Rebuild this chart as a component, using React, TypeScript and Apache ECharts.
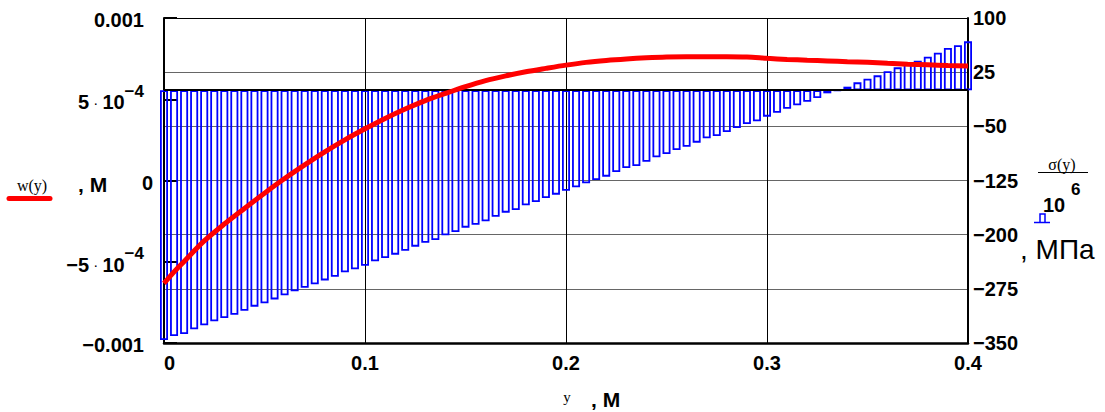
import React, { useEffect, useRef } from "react";
import * as echarts from "echarts";

// positions along y (m) for the stress bars
const barPositions = [
  0, 0.005, 0.01, 0.015, 0.02, 0.025, 0.03, 0.035, 0.04, 0.045,
  0.05, 0.055, 0.06, 0.065, 0.07, 0.075, 0.08, 0.085, 0.09, 0.095,
  0.1, 0.105, 0.11, 0.115, 0.12, 0.125, 0.13, 0.135, 0.14, 0.145,
  0.15, 0.155, 0.16, 0.165, 0.17, 0.175, 0.18, 0.185, 0.19, 0.195,
  0.2, 0.205, 0.21, 0.215, 0.22, 0.225, 0.23, 0.235, 0.24, 0.245,
  0.25, 0.255, 0.26, 0.265, 0.27, 0.275, 0.28, 0.285, 0.29, 0.295,
  0.3, 0.305, 0.31, 0.315, 0.32, 0.325, 0.33, 0.335, 0.34, 0.345,
  0.35, 0.355, 0.36, 0.365, 0.37, 0.375, 0.38, 0.385, 0.39, 0.395, 0.4,
];

// sigma(y)/10^6, MPa
const sigmaMPa = [
  -345.8, -340.3, -337.5, -331.1, -325.5, -320.0, -315.4, -310.8, -305.3, -299.7,
  -295.1, -289.6, -284.0, -278.5, -273.4, -268.8, -263.3, -258.2, -252.2, -248.0,
  -243.0, -236.9, -232.3, -227.7, -222.2, -216.6, -211.1, -207.4, -200.9, -196.3,
  -190.3, -186.2, -181.5, -175.1, -169.5, -165.8, -159.4, -154.8, -149.2, -144.6,
  -139.1, -134.5, -128.9, -124.3, -119.7, -113.2, -107.7, -104.9, -99.0, -92.9,
  -88.3, -82.8, -78.2, -72.6, -66.6, -63.4, -57.8, -52.3, -46.8, -43.0,
  -36.6, -31.1, -25.6, -20.9, -15.9, -10.8, -4.3, -0.5, 4.9, 10.9,
  16.0, 20.6, 26.2, 31.7, 38.1, 40.9, 46.4, 52.0, 58.5, 62.2, 67.7,
];

// positions along y (m) for the deflection curve
const wPositions = [
  0, 0.005, 0.01, 0.02, 0.03, 0.04, 0.05, 0.06, 0.07, 0.08, 0.09,
  0.1, 0.11, 0.12, 0.13, 0.14, 0.15, 0.16, 0.17, 0.18, 0.19,
  0.2, 0.21, 0.22, 0.23, 0.24, 0.25, 0.26, 0.27, 0.28, 0.29,
  0.3, 0.31, 0.32, 0.33, 0.34, 0.35, 0.36, 0.37, 0.38, 0.39, 0.4,
];

// w(y), m
const wMetres = [
  -6.33e-4, -5.62e-4, -4.98e-4, -3.72e-4, -2.68e-4, -1.72e-4, -0.78e-4, 0.12e-4, 0.96e-4, 1.76e-4, 2.5e-4,
  3.18e-4, 3.82e-4, 4.4e-4, 4.92e-4, 5.36e-4, 5.78e-4, 6.15e-4, 6.44e-4, 6.69e-4, 6.9e-4,
  7.1e-4, 7.27e-4, 7.39e-4, 7.48e-4, 7.55e-4, 7.6e-4, 7.62e-4, 7.62e-4, 7.62e-4, 7.6e-4,
  7.52e-4, 7.45e-4, 7.4e-4, 7.36e-4, 7.31e-4, 7.27e-4, 7.21e-4, 7.16e-4, 7.12e-4, 7.08e-4, 7.05e-4,
];

const xTickLabels = ["0", "0.1", "0.2", "0.3", "0.4"];
// left axis from -0.001 to 0.001 step 0.0005
const leftTickLabels = [
  "{p|−0.001}",
  "{m|−5}{d| · }{m|10}{s|−4}",
  "{z|0}",
  "{m|5}{d| · }{m|10}{s|−4}",
  "{p|0.001}",
];
// right axis from -350 to 100 step 75
const rightTickLabels = ["−350", "−275", "−200", "−125", "−50", "25", "100"];

const FONT = "Liberation Sans";
const SERIF = "Liberation Serif";

export default function App() {
  const ref = useRef<HTMLDivElement>(null);

  useEffect(() => {
    if (!ref.current) return;
    const chart = echarts.init(ref.current, undefined, { renderer: "svg" });

    const option: any = {
      animation: false,
      textStyle: { fontFamily: FONT },
      grid: { left: 164, right: 137, top: 18, bottom: 69, containLabel: false },
      xAxis: [
        {
          type: "value",
          min: 0,
          max: 0.4,
          interval: 0.1,
          position: "bottom",
          axisLine: { show: true, onZero: false, lineStyle: { color: "#000", width: 2.5 } },
          axisTick: { show: false },
          splitLine: { show: true, lineStyle: { color: "#000", width: 1 } },
          axisLabel: {
            color: "#000",
            fontSize: 20,
            fontWeight: "bold",
            fontFamily: FONT,
            margin: 10,
            alignMinLabel: "left",
            formatter: (v: number) => xTickLabels[Math.round(v / 0.1)] ?? "",
          },
        },
        {
          type: "value",
          min: 0,
          max: 0.4,
          position: "top",
          axisLine: { show: true, onZero: false, lineStyle: { color: "#000", width: 1 } },
          axisTick: { show: false },
          axisLabel: { show: false },
          splitLine: { show: false },
        },
      ],
      yAxis: [
        {
          type: "value",
          min: -0.001,
          max: 0.001,
          interval: 0.0005,
          position: "left",
          axisLine: { show: true, onZero: false, lineStyle: { color: "#000", width: 2 } },
          axisTick: { show: true, inside: true, length: 13, lineStyle: { color: "#000", width: 2 } },
          splitLine: { show: false },
          axisLabel: {
            margin: 11,
            color: "#000",
            formatter: (v: number) => leftTickLabels[Math.round(v / 0.0005) + 2] ?? "",
            rich: {
              p: { fontSize: 20, fontWeight: "bold", fontFamily: FONT, color: "#000", padding: [4, 9, 0, 0] },
              z: { fontSize: 20, fontWeight: "bold", fontFamily: FONT, color: "#000", padding: [4, 0, 0, 0] },
              m: { fontSize: 20, fontWeight: "bold", fontFamily: FONT, color: "#000", padding: [6, 0, 0, 0] },
              d: { fontSize: 15, fontWeight: "normal", fontFamily: FONT, color: "#000", padding: [6, 0, 0, 0] },
              s: { fontSize: 17, fontWeight: "bold", fontFamily: FONT, color: "#000", padding: [0, 9, 16, 0] },
            },
          },
        },
        {
          type: "value",
          min: -350,
          max: 100,
          interval: 75,
          position: "right",
          axisLine: { show: true, onZero: false, lineStyle: { color: "#000", width: 2 } },
          axisTick: { show: false },
          splitLine: { show: true, lineStyle: { color: "#666", width: 1 } },
          axisLabel: {
            margin: 5,
            color: "#000",
            fontSize: 20,
            fontWeight: "bold",
            fontFamily: FONT,
            padding: [6, 0, 0, 0],
            formatter: (v: number) => rightTickLabels[Math.round((v + 350) / 75)] ?? "",
          },
        },
      ],
      series: [
        {
          type: "bar",
          xAxisIndex: 0,
          yAxisIndex: 1,
          barWidth: 8,
          clip: true,
          data: barPositions.map((p, i) => [p, sigmaMPa[i]]),
          itemStyle: { color: "rgba(0,0,0,0)", borderColor: "#0000ff", borderWidth: 1.8 },
          emphasis: { disabled: true },
          z: 2,
          markLine: {
            silent: true,
            symbol: "none",
            label: { show: false },
            lineStyle: { color: "#000", width: 2, type: "solid" },
            data: [{ yAxis: 0 }],
          },
        },
        {
          type: "line",
          xAxisIndex: 0,
          yAxisIndex: 0,
          data: wPositions.map((p, i) => [p, wMetres[i]]),
          showSymbol: false,
          symbol: "none",
          smooth: 0.3,
          lineStyle: { color: "#ff0000", width: 5 },
          z: 5,
        },
      ],
      graphic: [
        {
          type: "line",
          shape: { x1: 9, y1: 198.5, x2: 50, y2: 198.5 },
          style: { stroke: "#ff0000", lineWidth: 5, lineCap: "round" },
        },
        {
          type: "text",
          x: 32,
          y: 185,
          style: {
            text: "w(y)",
            font: `16px '${SERIF}'`,
            fill: "#000",
            textAlign: "center",
            align: "center",
            textVerticalAlign: "middle",
            verticalAlign: "middle",
          },
        },
        {
          type: "text",
          x: 78,
          y: 184,
          style: {
            text: ", М",
            font: `bold 21px '${FONT}'`,
            fill: "#000",
            textAlign: "left",
            align: "left",
            textVerticalAlign: "middle",
            verticalAlign: "middle",
          },
        },
        {
          type: "text",
          x: 1062,
          y: 164,
          style: {
            text: "σ(y)",
            font: `16px '${SERIF}'`,
            fill: "#000",
            textAlign: "center",
            align: "center",
            textVerticalAlign: "middle",
            verticalAlign: "middle",
          },
        },
        {
          type: "line",
          shape: { x1: 1038, y1: 172.5, x2: 1088, y2: 172.5 },
          style: { stroke: "#000", lineWidth: 1 },
        },
        {
          type: "text",
          x: 1043,
          y: 205,
          style: {
            text: "10",
            font: `bold 20px '${FONT}'`,
            fill: "#000",
            textAlign: "left",
            align: "left",
            textVerticalAlign: "middle",
            verticalAlign: "middle",
          },
        },
        {
          type: "text",
          x: 1071,
          y: 189,
          style: {
            text: "6",
            font: `bold 17px '${FONT}'`,
            fill: "#000",
            textAlign: "left",
            align: "left",
            textVerticalAlign: "middle",
            verticalAlign: "middle",
          },
        },
        {
          type: "polyline",
          shape: { points: [[1034, 222.5], [1050, 222.5]] },
          style: { stroke: "#0000ff", lineWidth: 1.5, fill: "none" },
        },
        {
          type: "polyline",
          shape: { points: [[1040, 222.5], [1040, 214], [1045, 214], [1045, 222.5]] },
          style: { stroke: "#0000ff", lineWidth: 1.5, fill: "none" },
        },
        {
          type: "text",
          x: 1020,
          y: 249,
          style: {
            text: ", МПа",
            font: `28px '${FONT}'`,
            fill: "#000",
            textAlign: "left",
            align: "left",
            textVerticalAlign: "middle",
            verticalAlign: "middle",
          },
        },
        {
          type: "text",
          x: 567,
          y: 397,
          style: {
            text: "y",
            font: `15px '${SERIF}'`,
            fill: "#000",
            textAlign: "center",
            align: "center",
            textVerticalAlign: "middle",
            verticalAlign: "middle",
          },
        },
        {
          type: "text",
          x: 591,
          y: 399,
          style: {
            text: ", М",
            font: `bold 21px '${FONT}'`,
            fill: "#000",
            textAlign: "left",
            align: "left",
            textVerticalAlign: "middle",
            verticalAlign: "middle",
          },
        },
      ],
    };

    chart.setOption(option);
    return () => chart.dispose();
  }, []);

  return (
    <div
      ref={ref}
      style={{ position: "fixed", left: 0, top: 0, width: 1105, height: 412, background: "#fff" }}
    />
  );
}
